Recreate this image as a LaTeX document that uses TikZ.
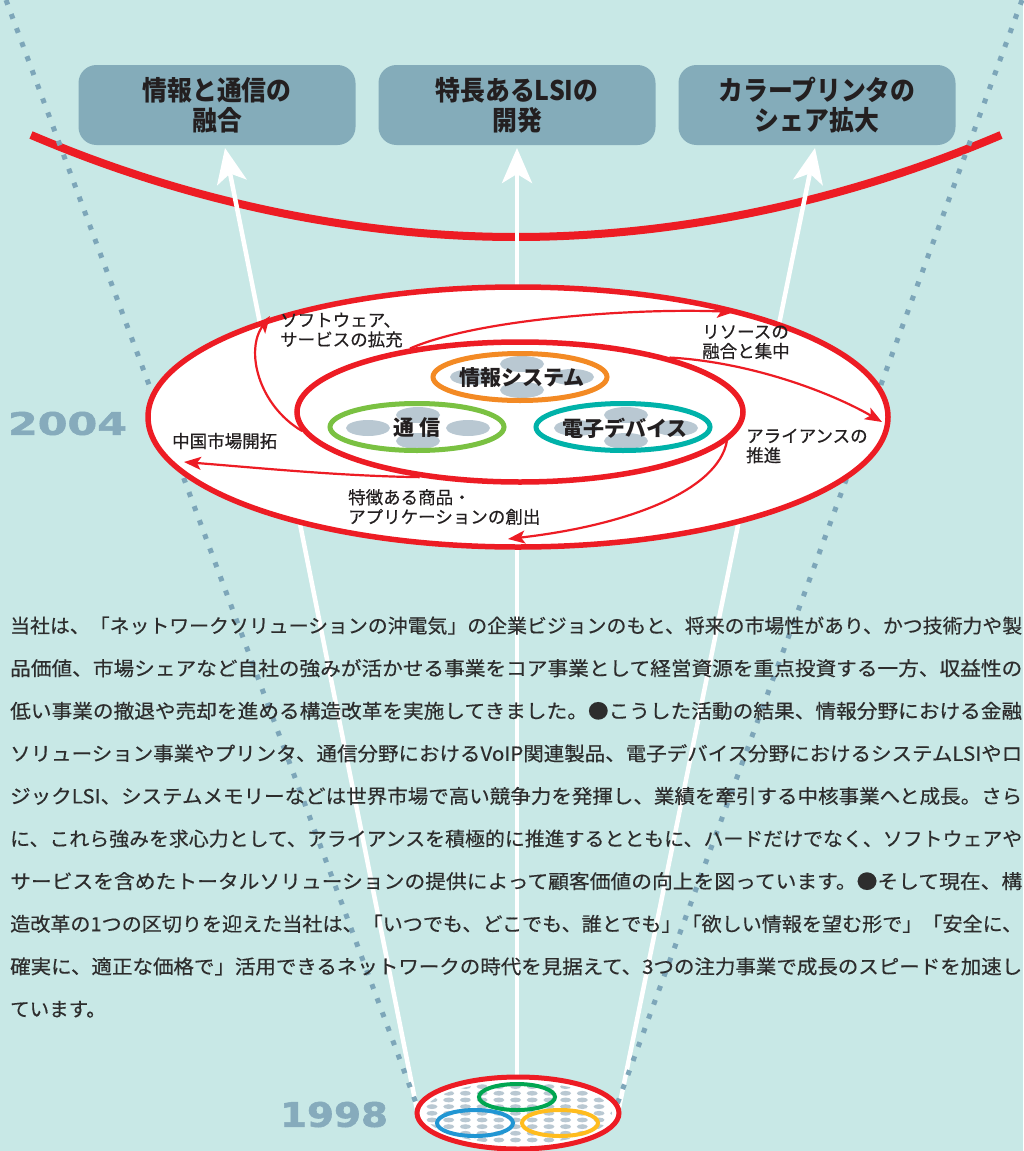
\documentclass[tikz,border=0pt]{standalone}
\usepackage{fontspec}
\usepackage{graphicx}
\usetikzlibrary{shapes.geometric,arrows.meta}
\newfontfamily\jp{Noto Sans CJK JP}
\newfontfamily\jpm[FakeBold=0.4]{Noto Sans CJK JP}
\newfontfamily\jpc[FakeStretch=0.92]{Noto Sans CJK JP}
\newfontfamily\yearfont[FakeBold=1.5]{DejaVu Sans}
\definecolor{bg}{RGB}{200,232,230}
\definecolor{boxc}{RGB}{132,172,186}
\definecolor{redc}{RGB}{237,28,36}
\definecolor{dotc}{RGB}{125,166,185}
\definecolor{txt}{RGB}{35,31,32}
\definecolor{ptxt}{RGB}{45,45,45}
\definecolor{orangec}{RGB}{243,138,36}
\definecolor{greenc}{RGB}{122,193,66}
\definecolor{tealc}{RGB}{0,178,169}
\definecolor{blobc}{RGB}{185,200,210}
\definecolor{yearc}{RGB}{134,171,188}
\definecolor{greenb}{RGB}{0,166,81}
\definecolor{blueb}{RGB}{33,150,211}
\definecolor{yellowb}{RGB}{255,188,30}
\tikzset{
  topbox/.style={rectangle, rounded corners=18pt, fill=boxc, minimum width=277pt,
    minimum height=80pt, inner sep=0pt, align=center, text=txt,
    font=\jpc\bfseries\fontsize{27}{30}\selectfont},
  whitearrow/.style={draw=white, line width=4.5pt,
    -{Stealth[length=35pt,width=30pt,inset=9pt,fill=white]}},
  redarrow/.style={draw=redc, line width=2.2pt,
    -{Stealth[length=17pt,width=13pt,inset=4pt,fill=redc]}},
  dotline/.style={draw=dotc, line width=5pt, dash pattern=on 5pt off 10pt},
  blob/.style={fill=blobc},
  ring/.style={ellipse, draw=#1, line width=5pt, minimum width=174pt,
    minimum height=47pt, inner sep=0pt},
  ringsmall/.style={ellipse, draw=#1, line width=4pt, minimum width=76pt,
    minimum height=26pt, inner sep=0pt},
  lab/.style={align=left, text=txt, font=\jpm\fontsize{17.5}{19.5}\selectfont, inner sep=0pt},
  core/.style={text=txt, inner sep=0pt, font=\jp\bfseries\fontsize{21}{21}\selectfont},
  pline/.style={anchor=base west, inner sep=0pt, text=ptxt}
}
\newcommand{\blobs}[2]{%
  \fill[blob] (#1,#2-13) ellipse [x radius=22pt, y radius=8pt];
  \fill[blob] (#1,#2+13) ellipse [x radius=22pt, y radius=8pt];
  \fill[blob] (#1-50,#2) ellipse [x radius=22pt, y radius=8pt];
  \fill[blob] (#1+50,#2) ellipse [x radius=22pt, y radius=8pt];}
\newcommand{\pl}[1]{\resizebox{1012pt}{\height}{\jpm\fontsize{19.5}{20}\selectfont #1}}
\begin{document}
\begin{tikzpicture}[x=1pt,y=-1pt]
\useasboundingbox (0,0) rectangle (1023,1151);
\fill[bg] (0,0) rectangle (1023,1151);

% top red arc
\coordinate (arcL) at (31,135);
\coordinate (arcB) at (516,237);
\coordinate (arcR) at (1001,135);
\draw[redc, line width=8pt] (arcL) parabola bend (arcB) (arcR);

% top boxes
\node[topbox] (b1) at (217,105) {情報と通信の\\融合};
\node[topbox] (b2) at (517,105) {特長あるLSIの\\開発};
\node[topbox] (b3) at (817,105) {カラープリンタの\\シェア拡大};

% white arrows
\coordinate (s1) at (417,1110);
\coordinate (s2) at (517,1085);
\coordinate (s3) at (619,1108);
\coordinate (t1) at (225,148);
\coordinate (t2) at (517,148);
\coordinate (t3) at (815,148);
\draw[whitearrow] (s1) -- (t1);
\draw[whitearrow] (s2) -- (t2);
\draw[whitearrow] (s3) -- (t3);

% dotted guide lines
\coordinate (dl0) at (6,0);
\coordinate (dl1) at (418.6,1110);
\coordinate (dr0) at (1022,0);
\coordinate (dr1) at (615,1110);
\draw[dotline] (dl0) -- (dl1);
\draw[dotline] (dr0) -- (dr1);

% 2004 ellipses
\node[ellipse, draw=redc, fill=white, line width=5.5pt, minimum width=740pt,
  minimum height=260pt, inner sep=0pt] (outer) at (518,417) {};
\node[ellipse, draw=redc, fill=white, line width=5.5pt, minimum width=446pt,
  minimum height=140pt, inner sep=0pt] (inner) at (520,412) {};

% core rings
\blobs{522}{377}
\blobs{418}{428}
\blobs{626}{428}
\node[ring=orangec] (info) at (520,377) {};
\node[ring=greenc] (comm) at (417,427) {};
\node[ring=tealc] (dev) at (623,427) {};
\node[core] (infot) at (522,378) {情報システム};
\node[core] (commt) at (417,428) {通\kern5pt 信};
\node[core] (devt) at (625,428) {電子デバイス};

% thin red arrows
\coordinate (a1) at (270,316);
\coordinate (a2) at (734,312);
\coordinate (a3) at (882,422);
\coordinate (a4) at (508,539);
\coordinate (a5) at (184,462);
\draw[redarrow] (inner.185) .. controls (258,405) and (245,350) .. (a1);
\draw[redarrow] (inner.150) .. controls (480,318) and (640,308) .. (a2);
\draw[redarrow] (inner.20) .. controls (750,362) and (830,392) .. (a3);
\draw[redarrow] (inner.-8) .. controls (718,490) and (630,525) .. (a4);
\draw[redarrow] (inner.213) .. controls (340,476) and (260,468) .. (a5);

% labels
\node[lab, anchor=west] (l1) at (280,330) {ソフトウェア、\\サービスの拡充};
\node[lab, anchor=west] (l2) at (702,342) {リソースの\\融合と集中};
\node[lab, anchor=west] (l3) at (746,446) {アライアンスの\\推進};
\node[lab, anchor=west] (l4) at (172,441) {中国市場開拓};
\node[lab, anchor=west] (l5) at (348,507) {特徴ある商品・\\アプリケーションの創出};

% years
\node[inner sep=0pt, text=yearc] (y2004) at (67.5,423.5)
  {\resizebox{119pt}{23pt}{\yearfont\bfseries 2004}};
\node[inner sep=0pt, text=yearc] (y1998) at (334,1114.5)
  {\resizebox{108pt}{25pt}{\yearfont\bfseries 1998}};

% paragraph
\node[pline] (p1) at (10,633.0) {\pl{当社は、「ネットワークソリューションの沖電気」の企業ビジョンのもと、将来の市場性があり、かつ技術力や製}};
\node[pline] (p2) at (10,675.6) {\pl{品価値、市場シェアなど自社の強みが活かせる事業をコア事業として経営資源を重点投資する一方、収益性の}};
\node[pline] (p3) at (10,718.2) {\pl{低い事業の撤退や売却を進める構造改革を実施してきました。●こうした活動の結果、情報分野における金融}};
\node[pline] (p4) at (10,760.8) {\pl{ソリューション事業やプリンタ、通信分野におけるVoIP関連製品、電子デバイス分野におけるシステムLSIやロ}};
\node[pline] (p5) at (10,803.4) {\pl{ジックLSI、システムメモリーなどは世界市場で高い競争力を発揮し、業績を牽引する中核事業へと成長。さら}};
\node[pline] (p6) at (10,846.0) {\pl{に、これら強みを求心力として、アライアンスを積極的に推進するとともに、ハードだけでなく、ソフトウェアや}};
\node[pline] (p7) at (10,888.6) {\pl{サービスを含めたトータルソリューションの提供によって顧客価値の向上を図っています。●そして現在、構}};
\node[pline] (p8) at (10,931.2) {\pl{造改革の1つの区切りを迎えた当社は、「いつでも、どこでも、誰とでも」「欲しい情報を望む形で」「安全に、}};
\node[pline] (p9) at (10,973.8) {\pl{確実に、適正な価格で」活用できるネットワークの時代を見据えて、3つの注力事業で成長のスピードを加速し}};
\node[pline] (p10) at (10,1016.4) {\jpm\fontsize{19.5}{20}\selectfont ています。};

% 1998 ellipse
\node[ellipse, draw=redc, fill=white, line width=5pt, minimum width=202pt,
  minimum height=72pt, inner sep=0pt] (e98) at (518,1113) {};
\begin{scope}
\clip (518,1113) ellipse [x radius=94pt, y radius=31pt];
\foreach \i in {0,...,11}{\foreach \j in {0,...,8}{
  \fill[blobc] ({432+\i*16.7},{1086.6+\j*6.67}) ellipse [x radius=5.5pt, y radius=2.4pt];}}
\end{scope}
\node[ringsmall=greenb] (g98) at (517,1097) {};
\node[ringsmall=blueb] (bl98) at (475,1123) {};
\node[ringsmall=yellowb] (ye98) at (560,1123) {};
\end{tikzpicture}
\end{document}
